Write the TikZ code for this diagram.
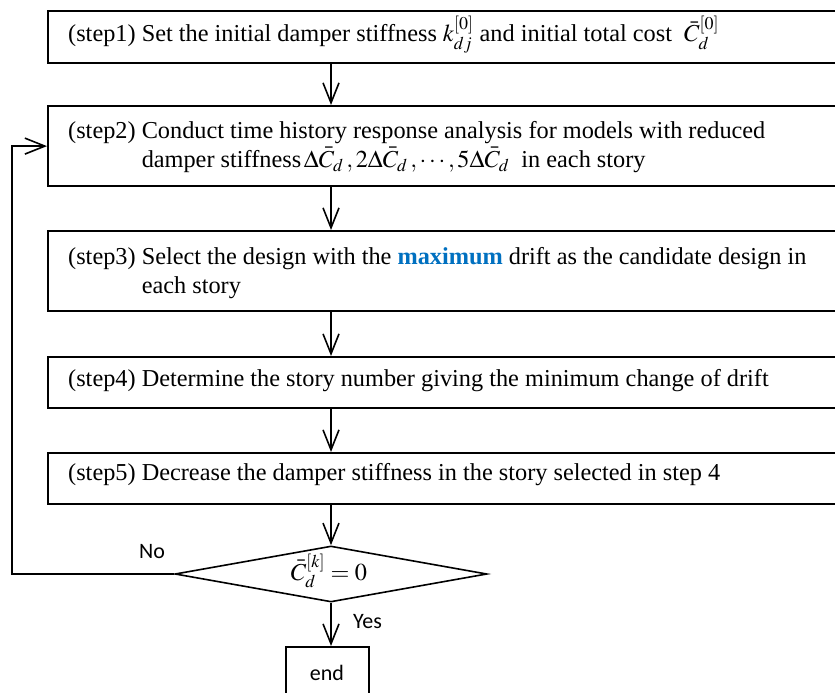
\documentclass[tikz,border=0pt]{standalone}
\usepackage{mathptmx}
\usepackage[no-math]{fontspec}
\setmainfont{Liberation Serif}
\newfontfamily\carlito{Carlito}
\usetikzlibrary{arrows.meta,shapes.geometric}
\definecolor{hlblue}{RGB}{0,112,192}
\tikzset{
  box/.style={draw, line width=2.2pt, anchor=north west, inner sep=0pt, minimum width=793pt},
  txt/.style={anchor=base west, inner sep=0pt, font=\fontsize{24.3}{29}\selectfont},
  lbl/.style={inner sep=0pt, font=\carlito\fontsize{22}{26}\selectfont},
  flow/.style={line width=1.6pt, -{Straight Barb[length=20pt,width=16pt,line width=1.6pt]}},
  loopline/.style={line width=2.4pt, -{Straight Barb[length=20pt,width=16pt,line width=1.6pt]}},
}
\begin{document}
\begin{tikzpicture}[x=1pt,y=-1pt]
\useasboundingbox (0,0) rectangle (835,693);
% boxes
\node[box, minimum height=52pt] (b1) at (47,10) {};
\node[box, minimum height=80pt] (b2) at (47,105) {};
\node[box, minimum height=80pt] (b3) at (47,230) {};
\node[box, minimum height=51pt] (b4) at (47,356) {};
\node[box, minimum height=51pt] (b5) at (47,452) {};
\node[draw, diamond, line width=1.6pt, inner sep=0pt, minimum width=312pt, minimum height=56pt] (dec) at (331,574) {};
\node[box, minimum width=83pt, minimum height=60pt] (endb) at (285,646) {};
% texts
\node[txt] (t1) at (68,42) {(step1) Set the initial damper stiffness $k_{dj}^{[0]}$ and initial total cost \ $\bar{C}_d^{[0]}$};
\node[txt] (t2) at (68,138) {\begin{tabular}[t]{@{}l@{ }l@{}}(step2) & Conduct time history response analysis for models with reduced\\
 & damper stiffness$\,\Delta\bar{C}_d\,,2\Delta\bar{C}_d\,,\cdots,5\Delta\bar{C}_d$ \ in each story\end{tabular}};
\node[txt] (t3) at (68,264) {\begin{tabular}[t]{@{}l@{ }l@{}}(step3) & Select the design with the \textbf{\color{hlblue}maximum} drift as the candidate design in\\
 & each story\end{tabular}};
\node[txt] (t4) at (68,386) {(step4) Determine the story number giving the minimum change of drift};
\node[txt] (t5) at (68,480) {(step5) Decrease the damper stiffness in the story selected in step 4};
\node[anchor=base, inner sep=0pt, font=\fontsize{24.3}{29}\selectfont] (tdec) at (329,580) {$\bar{C}_d^{[k]}=0$};
\node[lbl, anchor=base] (tend) at (327,680) {end};
\node[lbl, anchor=base] (tno) at (152,558) {No};
\node[lbl, anchor=base west] (tyes) at (353,628) {Yes};
% connectors
\draw[flow] (b1.south -| dec) -- (b2.north -| dec);
\draw[flow] (b2.south -| dec) -- (b3.north -| dec);
\draw[flow] (b3.south -| dec) -- (b4.north -| dec);
\draw[flow] (b4.south -| dec) -- (b5.north -| dec);
\draw[flow] (b5.south -| dec) -- (dec.north);
\draw[flow] (dec.south) -- (endb.north -| dec);
\coordinate (lp) at (12,574);
\draw[loopline] (dec.west) -- (lp) |- (b2.west);
\end{tikzpicture}
\end{document}
